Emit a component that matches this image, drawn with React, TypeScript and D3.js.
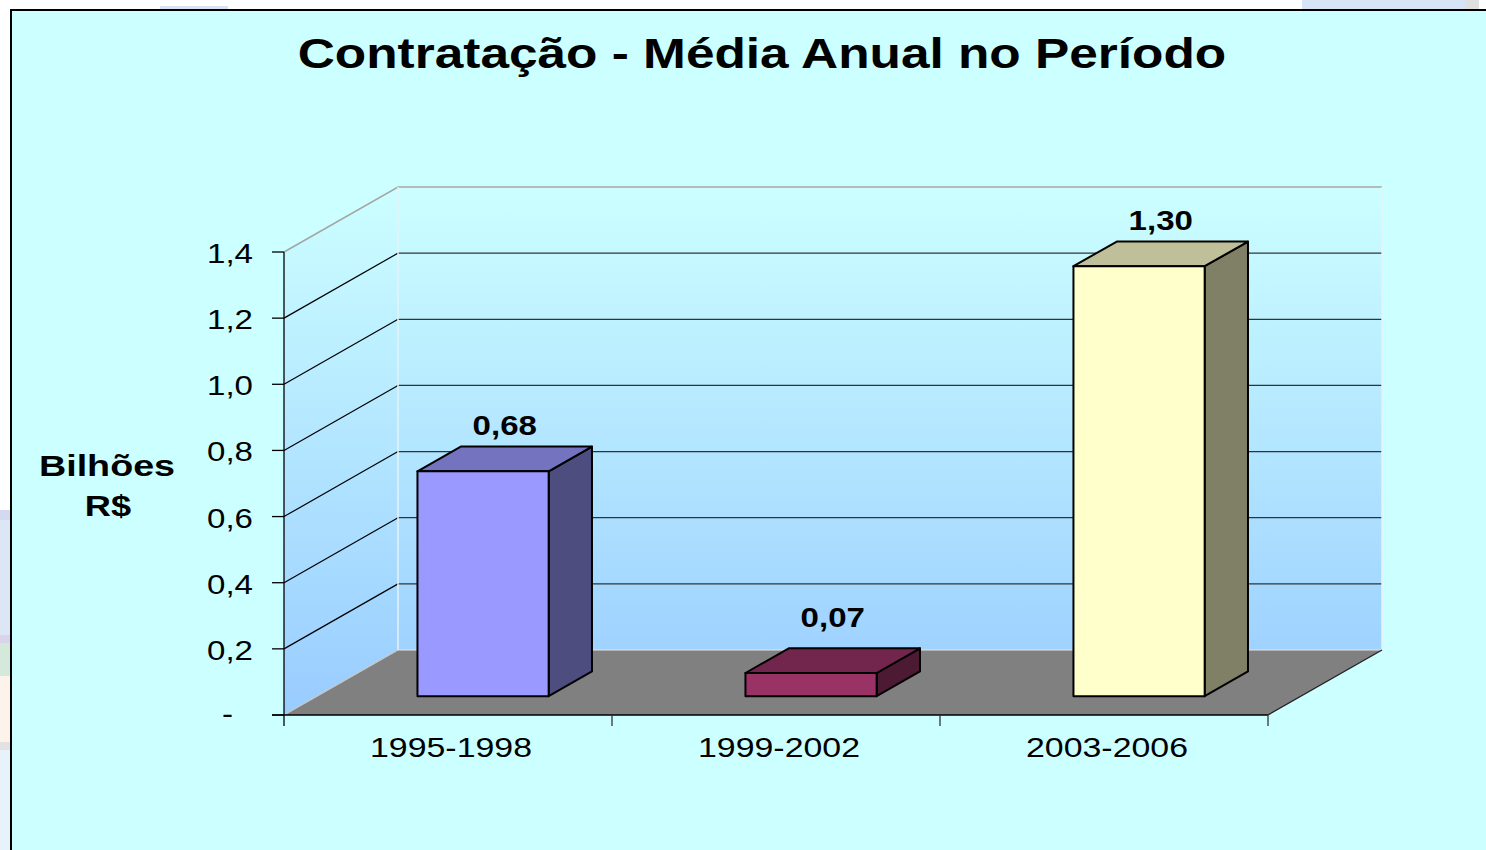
import React from 'react';
import * as d3 from 'd3';

const categories = ['1995-1998', '1999-2002', '2003-2006'];
const values = [0.68, 0.07, 1.3];
const valueLabels = ['0,68', '0,07', '1,30'];
const yTicks = [0, 0.2, 0.4, 0.6, 0.8, 1.0, 1.2, 1.4];
const yTickLabels = ['-', '0,2', '0,4', '0,6', '0,8', '1,0', '1,2', '1,4'];
const barColors = ['#9999FF', '#993366', '#FFFFCC'];

const W = 1486;
const H = 850;
const FONT = 'Liberation Sans, Arial, sans-serif';
const SX = 1.18; // the original picture is stretched sideways

// depth of the 3d box
const DX = 114;
const DY = 65;
const Z0 = 0.29;
const Z1 = 0.67;

const shade = (c: string, k: number) => {
  const r = d3.rgb(c);
  return d3.rgb(r.r * k, r.g * k, r.b * k).formatHex();
};

const Txt = ({ x, y, size, bold, anchor, children, sx }: any) => (
  <text
    transform={`translate(${x},${y}) scale(${sx || SX},1)`}
    fontFamily={FONT}
    fontSize={size}
    fontWeight={bold ? 'bold' : 'normal'}
    textAnchor={anchor || 'middle'}
    fill="#000"
  >
    {children}
  </text>
);

export default function App() {
  const x = d3.scaleBand().domain(categories).range([284, 1268]).padding(0);
  const y = d3.scaleLinear().domain([0, 1.4]).range([715, 252]);
  const p = (px: number, v: number, z: number) => [px + z * DX, y(v) - z * DY];
  const pts = (arr: number[][]) => arr.map((d) => d.join(',')).join(' ');

  const x0 = x.range()[0];
  const x1 = x.range()[1];
  const top = yTicks[yTicks.length - 1];
  const bw = x.bandwidth() * 0.4;

  return (
    <svg width={W} height={H} style={{ position: 'absolute', left: 0, top: 0 }}>
      <defs>
        <linearGradient id="wall" gradientUnits="userSpaceOnUse" x1="0" y1={p(0, top, 1)[1]} x2="0" y2={y(0)}>
          <stop offset="0" stopColor="#CCFFFF" />
          <stop offset="1" stopColor="#99CCFF" />
        </linearGradient>
      </defs>
      {/* slide bits outside the chart frame */}
      <rect x={0} y={0} width={W} height={H} fill="#fff" />
      <rect x={160} y={6} width={68} height={5} fill="#D6E4F5" />
      <rect x={1302} y={0} width={163} height={11} fill="#D6E4F5" />
      <rect x={1465} y={0} width={14} height={11} fill="#E0E0E0" />
      <rect x={0} y={510} width={12} height={10} fill="#D5D9F0" />
      <rect x={0} y={520} width={12} height={115} fill="#DCE6F4" />
      <rect x={0} y={635} width={12} height={8} fill="#D9D3EC" />
      <rect x={0} y={643} width={12} height={33} fill="#D5E8DC" />
      <rect x={0} y={676} width={12} height={66} fill="#FDF3EA" />
      <rect x={0} y={742} width={12} height={8} fill="#E2E2E2" />
      <rect x={0} y={750} width={12} height={100} fill="#E8F2FA" />
      <rect x={11} y={10} width={W} height={H} fill="#CCFFFF" stroke="#000" strokeWidth={2} />

      <Txt x={762} y={68} size={43} bold sx={1.195}>
        Contratação - Média Anual no Período
      </Txt>

      {/* walls */}
      <polygon points={pts([p(x0, 0, 0), p(x0, 0, 1), p(x0, top, 1), p(x0, top, 0)])} fill="url(#wall)" />
      <polygon points={pts([p(x0, 0, 1), p(x1, 0, 1), p(x1, top, 1), p(x0, top, 1)])} fill="url(#wall)" />
      {yTicks.slice(1, -1).map((t) => (
        <g key={t}>
          <line x1={p(x0, t, 0)[0]} y1={p(x0, t, 0)[1]} x2={p(x0, t, 1)[0]} y2={p(x0, t, 1)[1]} stroke="#000" strokeWidth={1.2} />
          <line x1={p(x0, t, 1)[0]} y1={p(x0, t, 1)[1]} x2={p(x1, t, 1)[0]} y2={p(x1, t, 1)[1]} stroke="#333" strokeWidth={1.2} />
        </g>
      ))}
      <polyline points={pts([p(x0, top, 0), p(x0, top, 1), p(x1, top, 1)])} fill="none" stroke="#A6A6A6" strokeWidth={1.6} />
      <line x1={p(x0, 0, 1)[0]} y1={p(x0, 0, 1)[1]} x2={p(x0, top, 1)[0]} y2={p(x0, top, 1)[1]} stroke="#E6F2F7" strokeWidth={1.5} />
      <line x1={p(x1, 0, 1)[0]} y1={p(x1, 0, 1)[1]} x2={p(x1, top, 1)[0]} y2={p(x1, top, 1)[1]} stroke="#E6F2F7" strokeWidth={1.5} />

      {/* floor */}
      <polygon points={pts([p(x0, 0, 0), p(x1, 0, 0), p(x1, 0, 1), p(x0, 0, 1)])} fill="#808080" />
      <line x1={p(x0, 0, 1)[0]} y1={p(x0, 0, 1)[1]} x2={p(x1, 0, 1)[0]} y2={p(x1, 0, 1)[1]} stroke="#E6E6E6" strokeWidth={1.2} />
      <line x1={p(x0, 0, 0)[0]} y1={p(x0, 0, 0)[1]} x2={p(x0, 0, 1)[0]} y2={p(x0, 0, 1)[1]} stroke="#C8C8C8" strokeWidth={1.2} />
      <line x1={p(x1, 0, 0)[0]} y1={p(x1, 0, 0)[1]} x2={p(x1, 0, 1)[0]} y2={p(x1, 0, 1)[1]} stroke="#222" strokeWidth={1.3} />

      {/* bars */}
      {categories.map((c, i) => {
        const v = values[i];
        const l = (x(c) as number) + (x.bandwidth() - bw) / 2 + 2;
        const r = l + bw;
        const col = barColors[i];
        const front = [p(l, 0, Z0), p(r, 0, Z0), p(r, v, Z0), p(l, v, Z0)];
        const topF = [p(l, v, Z0), p(r, v, Z0), p(r, v, Z1), p(l, v, Z1)];
        const side = [p(r, 0, Z0), p(r, v, Z0), p(r, v, Z1), p(r, 0, Z1)];
        const lx = (p(l, v, Z0)[0] + p(r, v, Z1)[0]) / 2;
        const ly = p(l, Math.max(v, 0.1), Z0)[1] - 36;
        return (
          <g key={c}>
            <polygon points={pts(side)} fill={shade(col, 0.5)} stroke="#000" strokeWidth={2} strokeLinejoin="round" />
            <polygon points={pts(topF)} fill={shade(col, 0.75)} stroke="#000" strokeWidth={2} strokeLinejoin="round" />
            <polygon points={pts(front)} fill={col} stroke="#000" strokeWidth={2} strokeLinejoin="round" />
            <Txt x={lx} y={ly} size={28} bold>
              {valueLabels[i]}
            </Txt>
          </g>
        );
      })}

      {/* front axes */}
      <line x1={x0} y1={y(top)} x2={x0} y2={y(0) + 11} stroke="#000" strokeWidth={1.3} />
      <line x1={x0 - 12} y1={y(0)} x2={x1} y2={y(0)} stroke="#000" strokeWidth={1.5} />
      {yTicks.map((t, i) => (
        <g key={t}>
          <line x1={x0 - 12} y1={y(t)} x2={x0} y2={y(t)} stroke="#000" strokeWidth={1.3} />
          <Txt x={t === 0 ? x0 - 51 : x0 - 31} y={y(t) + (t === 0 ? 8 : 11)} size={28} anchor="end">
            {yTickLabels[i]}
          </Txt>
        </g>
      ))}
      {categories.map((c) => (
        <g key={c}>
          <line x1={(x(c) as number) + x.bandwidth()} y1={y(0)} x2={(x(c) as number) + x.bandwidth()} y2={y(0) + 11} stroke="#333" strokeWidth={1.3} />
          <Txt x={(x(c) as number) + x.bandwidth() / 2 + 3} y={757} size={28} sx={1.21}>
            {c}
          </Txt>
        </g>
      ))}

      <Txt x={107} y={476} size={29} bold sx={1.3}>
        Bilhões
      </Txt>
      <Txt x={108} y={516} size={29} bold sx={1.25}>
        R$
      </Txt>
    </svg>
  );
}
